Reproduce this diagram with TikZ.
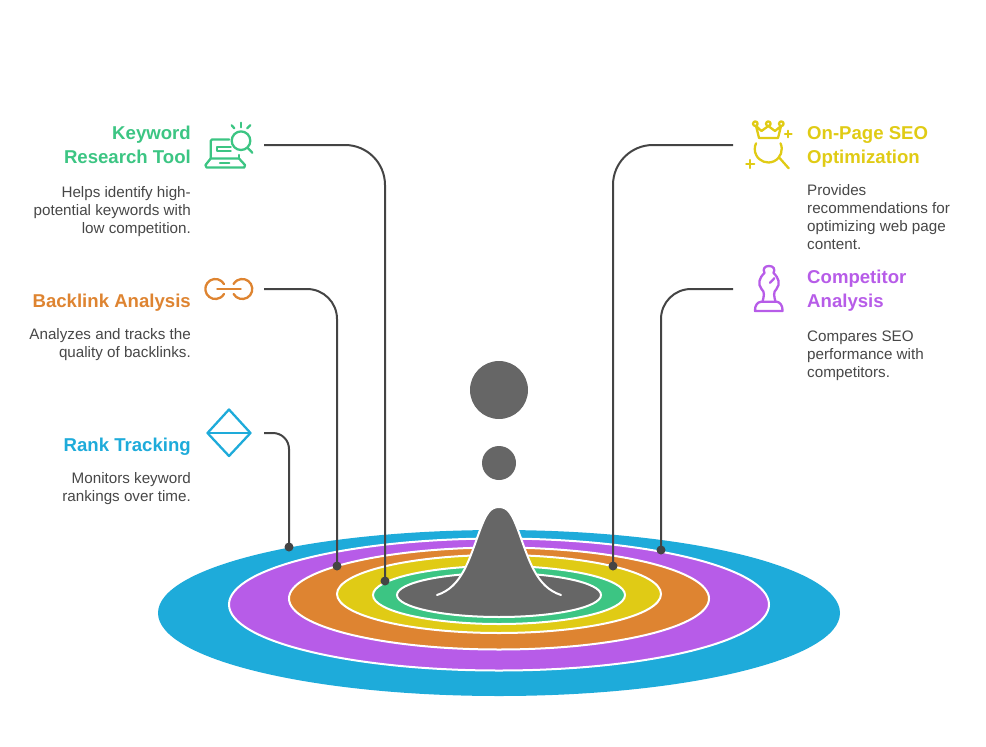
\documentclass[tikz,border=0pt]{standalone}
\usepackage{fontspec}
\setmainfont{Liberation Sans}
\definecolor{cgreen}{HTML}{3CC583}
\definecolor{corange}{HTML}{DE8431}
\definecolor{cblue}{HTML}{1EABDA}
\definecolor{cyellow}{HTML}{E0CB15}
\definecolor{cpurple}{HTML}{B75CE8}
\definecolor{cgray}{HTML}{666666}
\definecolor{cline}{HTML}{444444}
\tikzset{
  ttl/.style={inner sep=0pt,font=\fontsize{18.6}{24}\selectfont\bfseries},
  bodyr/.style={inner sep=0pt,anchor=north east,align=right,text=black!72,font=\fontsize{15.2}{18}\selectfont},
  bodyl/.style={inner sep=0pt,anchor=north west,align=left,text=black!72,font=\fontsize{15.2}{18}\selectfont},
  ring/.style={draw=white,line width=2pt},
  conn/.style={draw=cline,line width=2pt},
  dotn/.style={circle,fill=cline,minimum size=9pt,inner sep=0pt},
  ico/.style={line width=2.3pt,line cap=round,line join=round,fill=none},
}
\begin{document}
\begin{tikzpicture}[x=1pt,y=-1pt]
\useasboundingbox (0,0) rectangle (986,747);
% rings
\fill[cblue] (499,613) ellipse (341 and 83);
\path[ring,fill=cpurple] (499,604.5) ellipse (270 and 66);
\path[ring,fill=corange] (499,598.5) ellipse (210 and 51);
\path[ring,fill=cyellow] (499,594) ellipse (162 and 39);
\path[ring,fill=cgreen] (499,595) ellipse (126 and 29);
\path[ring,fill=cgray] (499,595) ellipse (102 and 22);
% bell
\fill[cgray] (437,595) .. controls (462,587) and (469,560) .. (480,530)
  .. controls (486,514) and (490,507) .. (499,507)
  .. controls (508,507) and (512,514) .. (518,530)
  .. controls (529,560) and (536,587) .. (561,595) -- cycle;
\draw[white,line width=2pt,line cap=round] (437,595) .. controls (462,587) and (469,560) .. (480,530)
  .. controls (486,514) and (490,507) .. (499,507)
  .. controls (508,507) and (512,514) .. (518,530)
  .. controls (529,560) and (536,587) .. (561,595);
\fill[cgray] (499,390) circle (29);
\fill[cgray] (499,463) circle (17);
% connector ends
\coordinate (kstart) at (264,145);
\coordinate (bstart) at (264,289);
\coordinate (rstart) at (264,433);
\coordinate (ostart) at (733,145);
\coordinate (cstart) at (733,289);
\node[dotn] (kdot) at (385,581) {};
\node[dotn] (bdot) at (337,566) {};
\node[dotn] (rdot) at (289,547) {};
\node[dotn] (odot) at (613,566) {};
\node[dotn] (cdot) at (661,550) {};
\draw[conn,rounded corners=40pt] (kstart) -| (kdot.center);
\draw[conn,rounded corners=30pt] (bstart) -| (bdot.center);
\draw[conn,rounded corners=16pt] (rstart) -| (rdot.center);
\draw[conn,rounded corners=40pt] (ostart) -| (odot.center);
\draw[conn,rounded corners=30pt] (cstart) -| (cdot.center);
% left texts
\node[ttl,text=cgreen,anchor=north east,align=right] (ktitle) at (191,126) {Keyword\\Research Tool};
\node[bodyr] (kbody) at (191,186) {Helps identify high-\\potential keywords with\\low competition.};
\node[ttl,text=corange,anchor=north east,align=right] (btitle) at (191,294) {Backlink Analysis};
\node[bodyr] (bbody) at (191,328) {Analyzes and tracks the\\quality of backlinks.};
\node[ttl,text=cblue,anchor=north east,align=right] (rtitle) at (191,438) {Rank Tracking};
\node[bodyr] (rbody) at (191,472) {Monitors keyword\\rankings over time.};
% right texts
\node[ttl,text=cyellow,anchor=north west,align=left] (otitle) at (807,126) {On-Page SEO\\Optimization};
\node[bodyl] (obody) at (807,184) {Provides\\recommendations for\\optimizing web page\\content.};
\node[ttl,text=cpurple,anchor=north west,align=left] (ctitle) at (807,270) {Competitor\\Analysis};
\node[bodyl] (cbody) at (807,331) {Compares SEO\\performance with\\competitors.};
% icon: laptop + magnifier
\begin{scope}[ico,draw=cgreen]
\draw (229.3,139.5) -- (212,139.5) -- (210.7,141) -- (210.7,158.5);
\draw (239,155) -- (239,158.5);
\draw (210.7,158.5) -- (205.5,165) -- (206.5,167.5) -- (244.3,167.5) -- (245,165) -- (239,158.5) -- cycle;
\draw (220,162.7) -- (229.3,162.7);
\draw (230.7,146.7) -- (216.7,146.7) -- (216.7,151) -- (230.7,151);
\draw (241,140.7) circle (9.3);
\draw (247.5,147.7) -- (252.3,152.7);
\draw (241,122.7) -- (241,127.3);
\draw (231.7,125.3) -- (234.3,128.3);
\draw (250.3,125.3) -- (247.3,128.3);
\end{scope}
% icon: link
\begin{scope}[ico,draw=corange]
\draw (224,284) arc (330:30:10);
\draw (233.6,294) arc (150:-150:10);
\draw (217.3,289) -- (240.7,289);
\end{scope}
% icon: diamond
\begin{scope}[ico,draw=cblue]
\draw (229,409.5) -- (250.5,433) -- (229,456) -- (207.5,433) -- cycle;
\draw (207.5,433) -- (250.5,433);
\end{scope}
% icon: crown + magnifier
\begin{scope}[ico,draw=cyellow]
\draw (755.3,123.7) circle (2.3);
\draw (768.3,123.7) circle (2.3);
\draw (781.3,123.7) circle (2.3);
\draw (756,126) -- (759,138) -- (778,138) -- (781,126) -- (775,131) -- (768.3,126) -- (761.5,131) -- cycle;
\draw (780.5,143.3) arc (-25:205:13.5);
\draw (779.3,157.7) -- (788.7,168.3);
\draw (785,134) -- (791.6,134);
\draw (788.3,130.7) -- (788.3,137.3);
\draw (746.3,164) -- (754.3,164);
\draw (750.3,160) -- (750.3,168);
\end{scope}
% icon: bishop
\begin{scope}[ico,draw=cpurple]
\draw (755,311) -- (782.5,311) .. controls (783,306) and (780,302) .. (776.7,301.7)
  -- (761,301.7) .. controls (757.5,302) and (754.5,306) .. (755,311) -- cycle;
\draw (762.5,301.7) .. controls (764,296) and (765,292) .. (761.5,289)
  .. controls (757.5,284) and (759,278) .. (764.5,273)
  .. controls (762.5,269) and (764.5,266) .. (769,266)
  .. controls (773.5,266) and (775.5,269) .. (773.5,273)
  .. controls (779,278) and (780.5,284) .. (776.5,289)
  .. controls (773,292) and (774,296) .. (775.5,301.7);
\draw (770,282.7) -- (774.3,278.3);
\end{scope}
\end{tikzpicture}
\end{document}
